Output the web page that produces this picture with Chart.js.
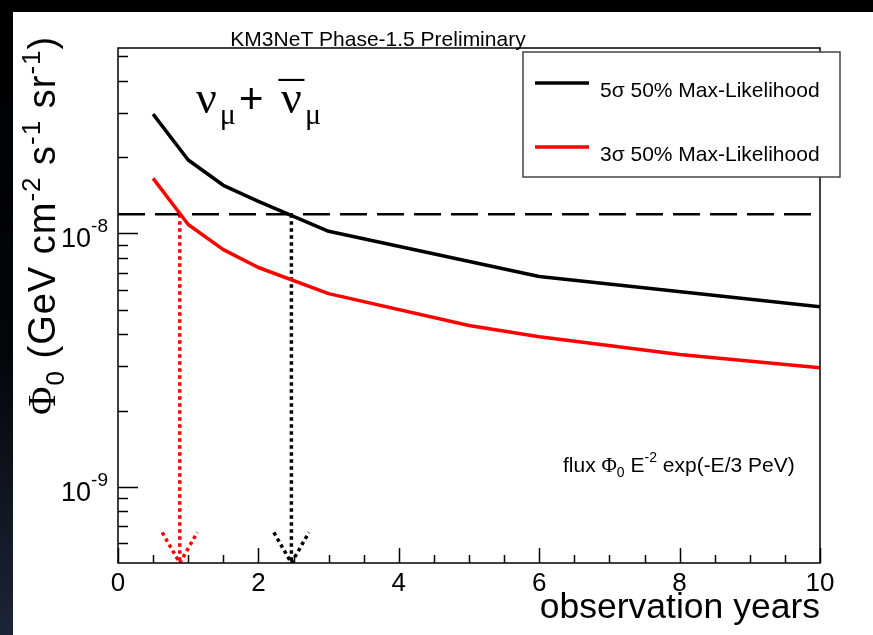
<!DOCTYPE html>
<html>
<head>
<meta charset="utf-8">
<script src="https://cdn.jsdelivr.net/npm/chart.js@4.4.1/dist/chart.umd.min.js"></script>
<style>
  html, body { margin: 0; padding: 0; background: #000; overflow: hidden; }
  canvas { display: block; }
</style>
</head>
<body>
<canvas id="sensitivityChart" width="873" height="635"></canvas>
<script>
// 50% discovery flux vs observation time
const years5Sigma = [0.5, 1, 1.5, 2, 3, 6, 10];
const flux5Sigma = [2.96e-8, 1.95e-8, 1.55e-8, 1.34e-8, 1.02e-8, 6.76e-9, 5.14e-9];
const years3Sigma = [0.5, 1, 1.5, 2, 3, 5, 6, 8, 10];
const flux3Sigma = [1.65e-8, 1.085e-8, 8.64e-9, 7.34e-9, 5.79e-9, 4.33e-9, 3.91e-9, 3.33e-9, 2.95e-9];

// reference flux and where each curve reaches it (3 sigma, 5 sigma)
const referenceFlux = 1.19e-8;
const reachYears = [0.88, 2.47];
const arrowHalfWidth = 0.25;
const arrowTopFlux = 6.6e-10;

// axes
const xRange = [0, 10];
const yRange = [5e-10, 5.4e-8];
const xMajorTicks = [0, 2, 4, 6, 8, 10];
const xMinorTicks = [0.5, 1, 1.5, 2.5, 3, 3.5, 4.5, 5, 5.5, 6.5, 7, 7.5, 8.5, 9, 9.5];
const yMajorTicks = [1e-9, 1e-8];
const yTickExponents = ['-9', '-8'];
const yMinorTicks = [6e-10, 7e-10, 8e-10, 9e-10,
  2e-9, 3e-9, 4e-9, 5e-9, 6e-9, 7e-9, 8e-9, 9e-9,
  2e-8, 3e-8, 4e-8, 5e-8];

const SANS = '"Liberation Sans", Arial, Helvetica, sans-serif';
const SERIF = '"Liberation Serif", "Times New Roman", serif';

const pts = (xs, ys) => xs.map((x, i) => ({ x: x, y: ys[i] }));

function arrowLine(x) {
  return [{ x: x, y: referenceFlux }, { x: x, y: yRange[0] }];
}
function arrowHead(x) {
  return [
    { x: x - arrowHalfWidth, y: arrowTopFlux },
    { x: x, y: yRange[0] },
    { x: x + arrowHalfWidth, y: arrowTopFlux }
  ];
}

// text with sub/superscript runs; "over" runs sit centred on the previous run
function drawRuns(ctx, runs, x, y, align, spacing) {
  ctx.letterSpacing = (spacing || 0) + 'px';
  let width = 0;
  runs.forEach(r => {
    ctx.font = r.font;
    r.w = ctx.measureText(r.text).width;
    if (!r.over) width += r.w;
  });
  let cx = align === 'right' ? x - width : align === 'center' ? x - width / 2 : x;
  let prev = null;
  runs.forEach(r => {
    ctx.font = r.font;
    if (r.over && prev) {
      const mid = cx - prev.w / 2 - (spacing || 0) / 2;
      ctx.save();
      ctx.letterSpacing = '0px';
      ctx.translate(mid, y + (r.dy || 0));
      ctx.scale(r.stretch || 1, 1);
      ctx.textAlign = 'center';
      ctx.fillText(r.text, 0, 0);
      ctx.restore();
      return;
    }
    ctx.fillText(r.text, cx, y + (r.dy || 0));
    cx += r.w;
    prev = r;
  });
  ctx.letterSpacing = '0px';
}

const rootStyle = {
  id: 'rootStyle',
  beforeDraw(chart) {
    const ctx = chart.ctx;
    const w = chart.width, h = chart.height;
    ctx.save();
    ctx.fillStyle = '#000';
    ctx.fillRect(0, 0, w, h);
    const grad = ctx.createLinearGradient(0, 0, 0, h);
    grad.addColorStop(0, '#000000');
    grad.addColorStop(0.55, '#03050a');
    grad.addColorStop(1, '#1c2536');
    ctx.fillStyle = grad;
    ctx.fillRect(0, 0, 13, h);
    ctx.fillStyle = '#fff';
    ctx.fillRect(13, 12, w - 13, h - 12);
    ctx.restore();
  },
  afterDatasetsDraw(chart) {
    const ctx = chart.ctx;
    const a = chart.chartArea;
    const xs = chart.scales.x, ys = chart.scales.y;
    ctx.save();
    ctx.strokeStyle = '#000';
    ctx.fillStyle = '#000';
    ctx.lineWidth = 1.5;
    ctx.strokeRect(a.left, a.top, a.right - a.left, a.bottom - a.top);

    // ticks, pointing into the frame
    ctx.beginPath();
    xMajorTicks.forEach(v => {
      const px = Math.round(xs.getPixelForValue(v)) + 0.5;
      ctx.moveTo(px, a.bottom); ctx.lineTo(px, a.bottom - 15);
    });
    xMinorTicks.forEach(v => {
      const px = Math.round(xs.getPixelForValue(v)) + 0.5;
      ctx.moveTo(px, a.bottom); ctx.lineTo(px, a.bottom - 8);
    });
    yMajorTicks.forEach(v => {
      const py = Math.round(ys.getPixelForValue(v)) + 0.5;
      ctx.moveTo(a.left, py); ctx.lineTo(a.left + 20, py);
    });
    yMinorTicks.forEach(v => {
      const py = Math.round(ys.getPixelForValue(v)) + 0.5;
      ctx.moveTo(a.left, py); ctx.lineTo(a.left + 10, py);
    });
    ctx.stroke();

    // tick labels
    ctx.textBaseline = 'alphabetic';
    ctx.font = '26px ' + SANS;
    ctx.textAlign = 'center';
    xMajorTicks.forEach(v => {
      ctx.fillText(String(v), xs.getPixelForValue(v), a.bottom + 28);
    });
    ctx.textAlign = 'left';
    yMajorTicks.forEach((v, i) => {
      const py = ys.getPixelForValue(v);
      drawRuns(ctx, [
        { text: '10', font: '27px ' + SANS },
        { text: yTickExponents[i], font: '19px ' + SANS, dy: -15 }
      ], 108, py + 14, 'right');
    });

    // axis titles
    drawRuns(ctx, [{ text: 'observation years', font: '35.5px ' + SANS }], a.right, 618, 'right');
    ctx.save();
    ctx.translate(55, 415);
    ctx.rotate(-Math.PI / 2);
    drawRuns(ctx, [
      { text: 'Φ', font: '39px ' + SERIF },
      { text: '0', font: '26px ' + SANS, dy: 9 },
      { text: ' (GeV cm', font: '38px ' + SANS },
      { text: '-2', font: '26px ' + SANS, dy: -15 },
      { text: ' s', font: '38px ' + SANS },
      { text: '-1', font: '26px ' + SANS, dy: -15 },
      { text: ' sr', font: '38px ' + SANS },
      { text: '-1', font: '26px ' + SANS, dy: -15 },
      { text: ')', font: '38px ' + SANS }
    ], 0, 0, 'left', 1);
    ctx.restore();

    // header and annotations
    drawRuns(ctx, [{ text: 'KM3NeT Phase-1.5 Preliminary', font: '21px ' + SANS }], 378, 46, 'center');
    drawRuns(ctx, [
      { text: 'ν', font: '46px ' + SERIF },
      { text: 'μ', font: '30px ' + SERIF, dy: 11 },
      { text: '+ ', font: '42px ' + SANS },
      { text: 'ν', font: '46px ' + SERIF },
      { text: '¯', font: '46px ' + SERIF, over: true, stretch: 1.1, dy: 1 },
      { text: 'μ', font: '30px ' + SERIF, dy: 11 }
    ], 196, 113, 'left', 3);
    drawRuns(ctx, [
      { text: 'flux ', font: '21px ' + SANS },
      { text: 'Φ', font: '21px ' + SERIF },
      { text: '0', font: '14px ' + SANS, dy: 5 },
      { text: ' E', font: '21px ' + SANS },
      { text: '-2', font: '14px ' + SANS, dy: -10 },
      { text: ' exp(-E/3 PeV)', font: '21px ' + SANS }
    ], 563, 472, 'left');

    // legend box
    const lg = { left: 523, top: 52, right: 840, bottom: 177 };
    ctx.fillStyle = '#fff';
    ctx.fillRect(lg.left, lg.top, lg.right - lg.left, lg.bottom - lg.top);
    ctx.strokeStyle = '#444';
    ctx.lineWidth = 1.5;
    ctx.strokeRect(lg.left, lg.top, lg.right - lg.left, lg.bottom - lg.top);
    const entries = [
      { label: '5σ 50% Max-Likelihood', color: '#000', y: 83 },
      { label: '3σ 50% Max-Likelihood', color: '#ff0000', y: 147 }
    ];
    entries.forEach(e => {
      ctx.strokeStyle = e.color;
      ctx.lineWidth = 3.5;
      ctx.beginPath();
      ctx.moveTo(535, e.y); ctx.lineTo(589, e.y);
      ctx.stroke();
      ctx.fillStyle = '#000';
      drawRuns(ctx, [{ text: e.label, font: '21px ' + SANS }], 600, e.y + 14, 'left');
    });
    ctx.restore();
  }
};

new Chart(document.getElementById('sensitivityChart'), {
  type: 'line',
  data: {
    datasets: [
      { label: '5σ 50% Max-Likelihood', data: pts(years5Sigma, flux5Sigma), borderColor: '#000', borderWidth: 3.5 },
      { label: '3σ 50% Max-Likelihood', data: pts(years3Sigma, flux3Sigma), borderColor: '#ff0000', borderWidth: 3.5 },
      { label: 'reference', data: [{ x: xRange[0], y: referenceFlux }, { x: xRange[1], y: referenceFlux }],
        borderColor: '#000', borderWidth: 2.5, borderDash: [27, 10] },
      { label: 'reach3', data: arrowLine(reachYears[0]), borderColor: '#ff0000', borderWidth: 3.5, borderDash: [3.5, 3.5] },
      { label: 'head3', data: arrowHead(reachYears[0]), borderColor: '#ff0000', borderWidth: 3.5, borderDash: [3.5, 3.5] },
      { label: 'reach5', data: arrowLine(reachYears[1]), borderColor: '#000', borderWidth: 3.5, borderDash: [3.5, 3.5] },
      { label: 'head5', data: arrowHead(reachYears[1]), borderColor: '#000', borderWidth: 3.5, borderDash: [3.5, 3.5] }
    ]
  },
  options: {
    responsive: false,
    devicePixelRatio: 1,
    animation: false,
    events: [],
    layout: { padding: { left: 118, top: 48, right: 53, bottom: 72 } },
    elements: {
      point: { radius: 0 },
      line: { tension: 0, fill: false, borderJoinStyle: 'round' }
    },
    scales: {
      x: { type: 'linear', min: xRange[0], max: xRange[1], display: false },
      y: { type: 'logarithmic', min: yRange[0], max: yRange[1], display: false }
    },
    plugins: {
      legend: { display: false },
      tooltip: { enabled: false }
    }
  },
  plugins: [rootStyle]
});
</script>
</body>
</html>
